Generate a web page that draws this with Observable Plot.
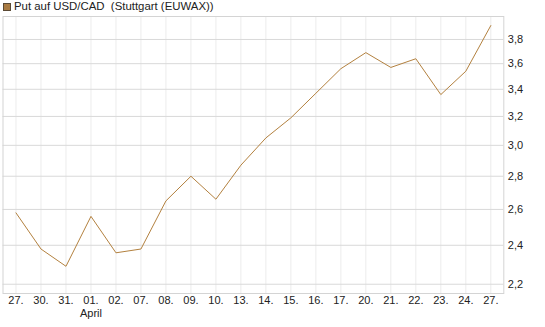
<!DOCTYPE html>
<html>
<head>
<meta charset="utf-8">
<script src="https://cdn.jsdelivr.net/npm/d3@7"></script>
<script src="https://cdn.jsdelivr.net/npm/@observablehq/plot@0.6"></script>
<style>
  html, body { margin: 0; padding: 0; background: #fff; }
  body { width: 545px; height: 327px; overflow: hidden; font-family: "Liberation Sans", Arial, sans-serif; }
  #legend { height: 14px; position: relative; font-size: 11.4px; color: #222; }
  #legend .sw { position: absolute; left: 3px; top: 3px; width: 6px; height: 6px; background: #a97b42; border: 1px solid #5a4a35; }
  #legend .tx { position: absolute; left: 14px; top: 0px; line-height: 13px; white-space: pre; }
  svg { display: block; }
</style>
</head>
<body>
<div id="legend"><span class="sw"></span><span class="tx">Put auf USD/CAD  (Stuttgart (EUWAX))</span></div>
<div id="chart"></div>
<script>
const dayLabels = ["27.","30.","31.","01.","02.","07.","08.","09.","10.","13.","14.","15.","16.","17.","20.","21.","22.","23.","24.","27."];
const values = [2.58, 2.38, 2.29, 2.56, 2.36, 2.38, 2.65, 2.80, 2.66, 2.87, 3.05, 3.19, 3.37, 3.56, 3.69, 3.57, 3.64, 3.36, 3.54, 3.92];
const yTicks = [2.2, 2.4, 2.6, 2.8, 3.0, 3.2, 3.4, 3.6, 3.8];
const monthLabel = {index: 3, text: "April"};

const data = values.map((v, i) => ({i, v}));
const idx = dayLabels.map((_, i) => i);
const fmt = d => d.toFixed(1).replace(".", ",");

const chart = Plot.plot({
  width: 545,
  height: 313,
  marginTop: 2,
  marginBottom: 34,
  marginLeft: 2.5,
  marginRight: 41.7,
  style: {fontFamily: "'Liberation Sans', Arial, sans-serif", fontSize: "11px", color: "#222", background: "#fff"},
  x: {type: "point", domain: idx, padding: 0.52, round: false},
  y: {type: "log", domain: [2.155, 4.0]},
  marks: [
    Plot.gridX(idx, {stroke: "#ececec", strokeOpacity: 1}),
    Plot.gridY(yTicks, {stroke: "#d9d9d9", strokeOpacity: 1}),
    Plot.frame({stroke: "#d4d4d4"}),
    Plot.axisY(yTicks, {anchor: "right", tickSize: 0, tickPadding: 4, tickFormat: fmt, label: null, fill: "#222"}),
    Plot.axisX(idx, {anchor: "bottom", tickSize: 0, tickPadding: 3, tickFormat: i => dayLabels[i], label: null, fill: "#222"}),
    Plot.axisX([monthLabel.index], {anchor: "bottom", tickSize: 0, tickPadding: 16, tickFormat: () => monthLabel.text, label: null, fill: "#222"}),
    Plot.line(data, {x: "i", y: "v", stroke: "#b3813f", strokeWidth: 1})
  ]
});
document.getElementById("chart").appendChild(chart);
</script>
</body>
</html>
